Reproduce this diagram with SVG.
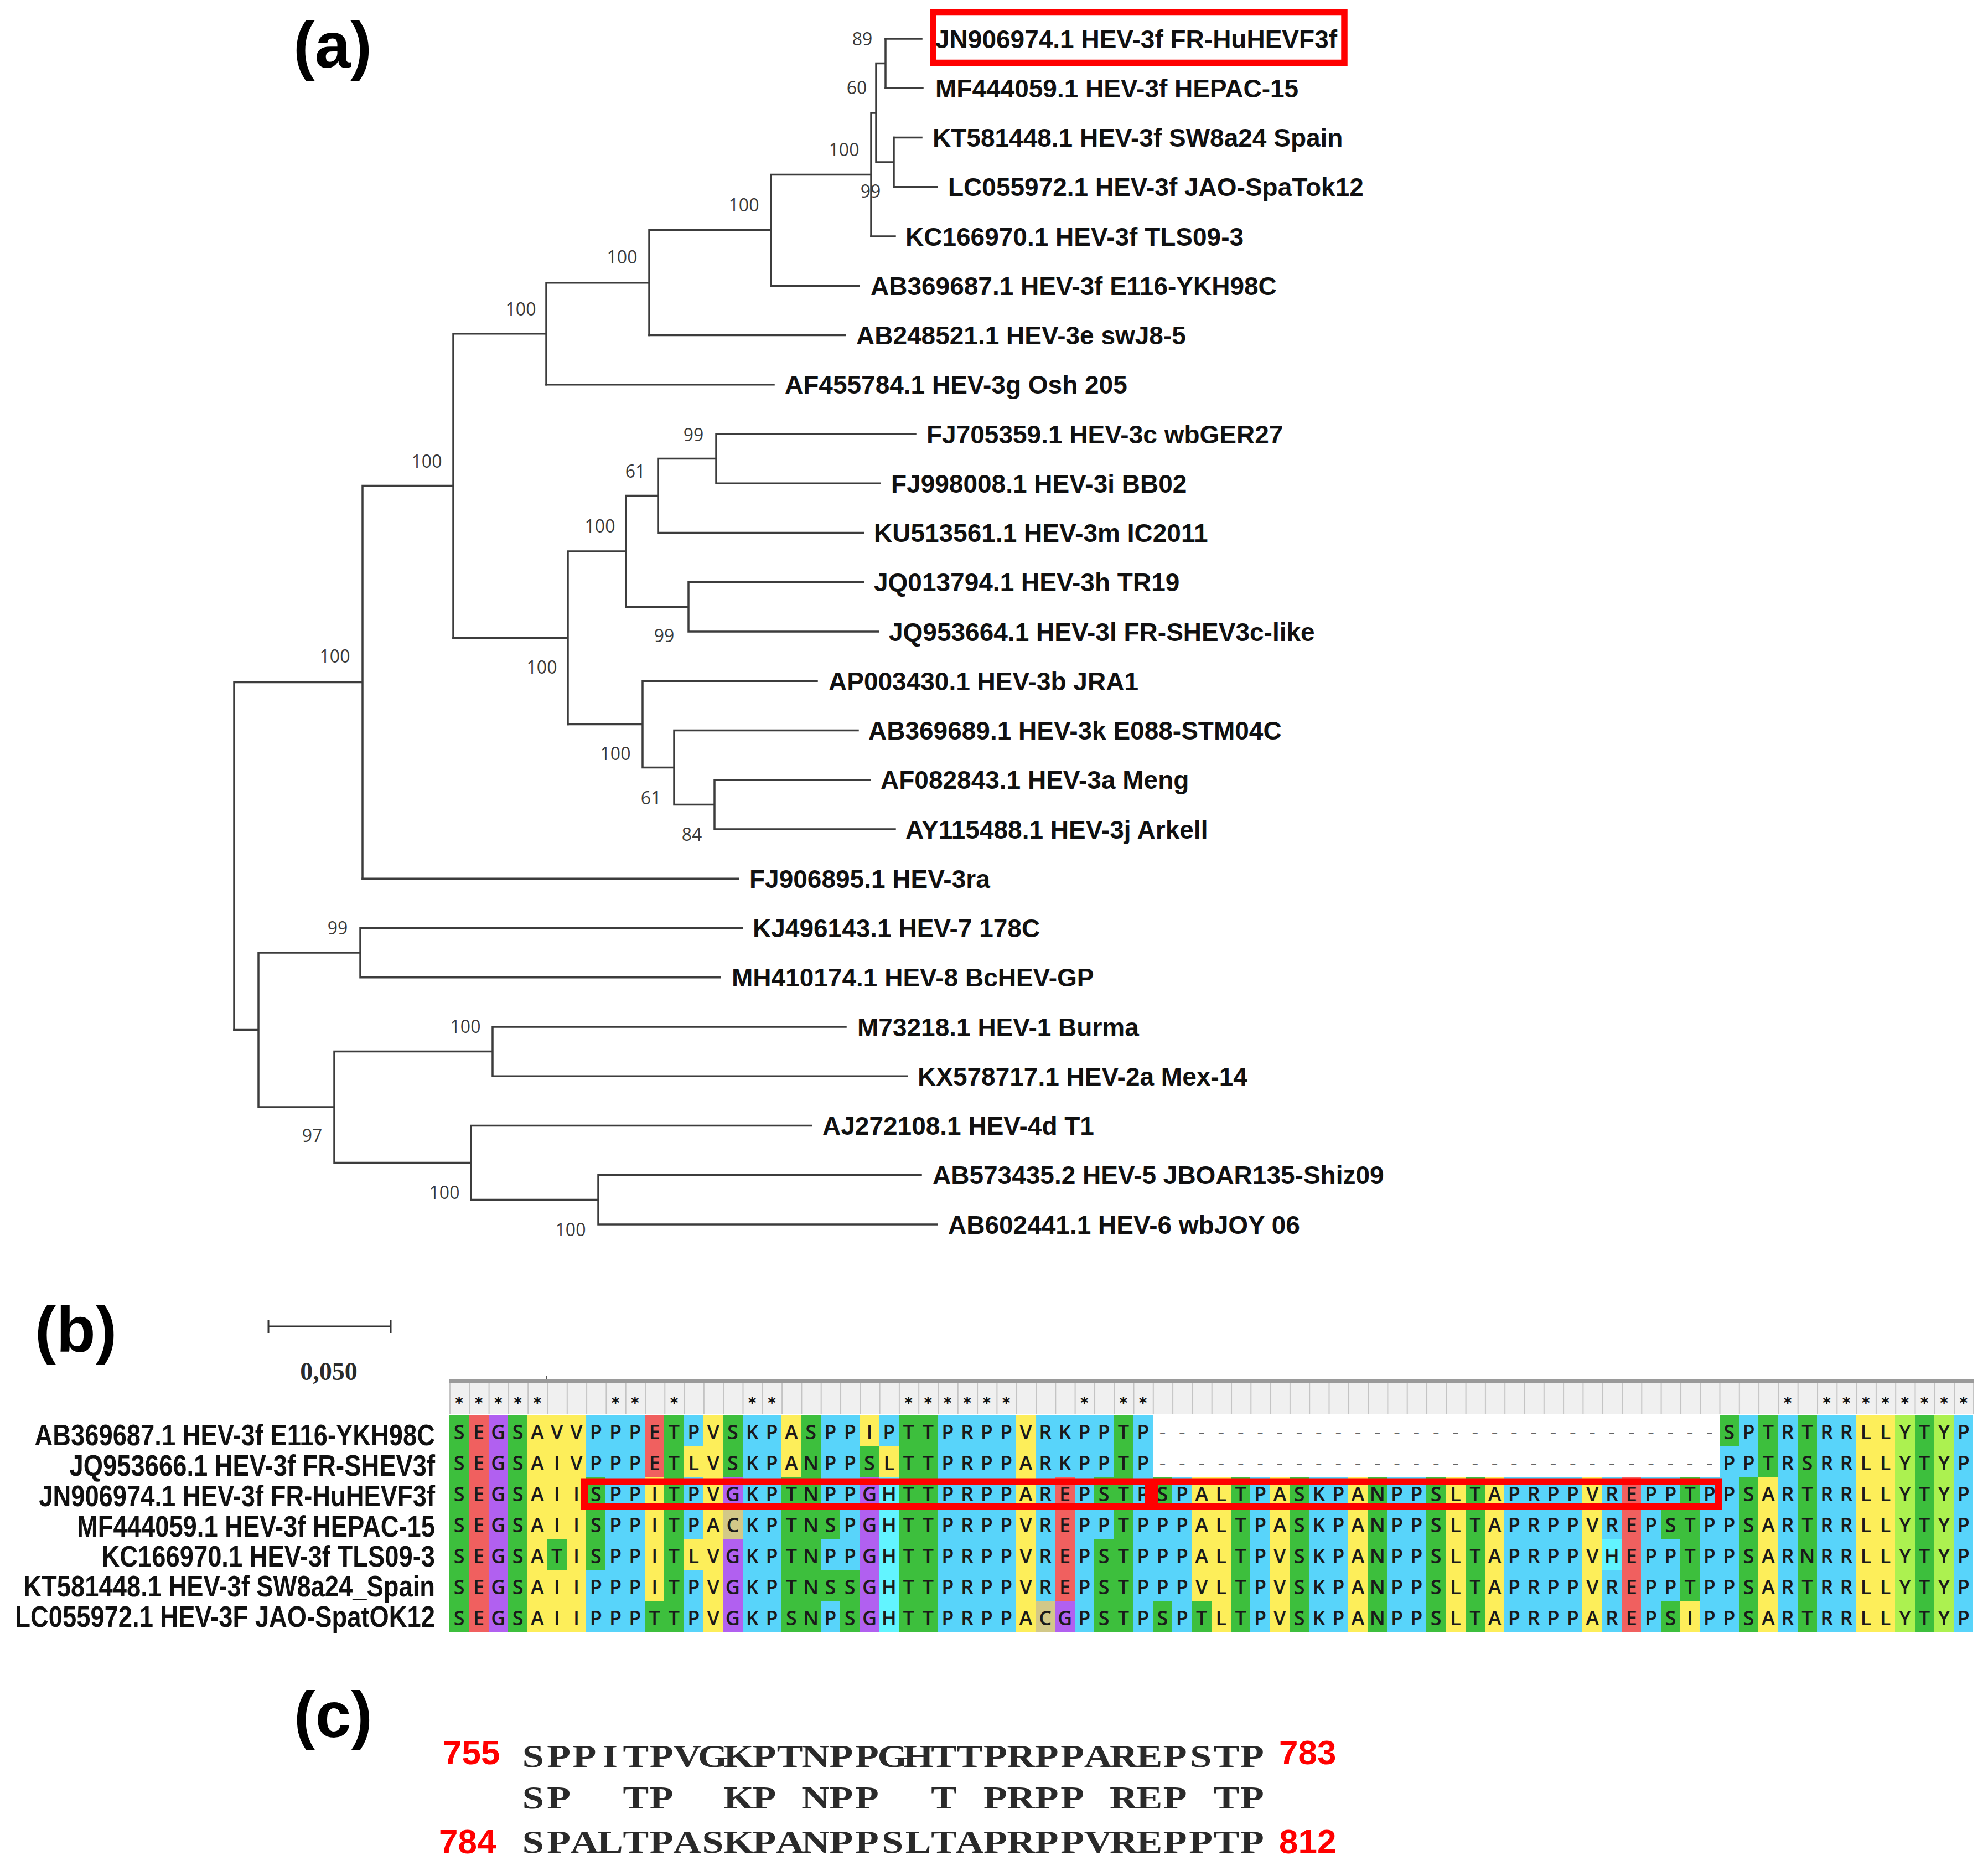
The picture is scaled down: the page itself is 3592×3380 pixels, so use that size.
<svg xmlns="http://www.w3.org/2000/svg" width="3592" height="3380" viewBox="0 0 3592 3380">
<style>
.br{fill:none;stroke:#3c3c3c;stroke-width:3.5;stroke-linecap:square}
.lf{font-family:"Liberation Sans",Arial,sans-serif;font-weight:bold;font-size:46px;fill:#111}
.bs{font-family:"Open Sans","DejaVu Sans",sans-serif;font-size:32px;fill:#3a3a3a;text-anchor:middle}
.pl{font-family:"Liberation Sans",Arial,sans-serif;font-weight:bold;font-size:116px;fill:#000}
.al{font-family:"Liberation Sans",Arial,sans-serif;font-weight:bold;font-size:54px;fill:#111;text-anchor:end}
.sq{font-family:"Open Sans","DejaVu Sans",sans-serif;font-weight:600;font-size:36px;fill:#1a1a1a;text-anchor:middle}
.gp{fill:#666;font-weight:normal}
.st{font-family:"DejaVu Sans",sans-serif;font-weight:bold;font-size:28px;fill:#111;text-anchor:middle}
.rb{fill:none;stroke:#ff0000;stroke-width:12}
.g{fill:#3dbf3d}.r{fill:#f0605f}.p{fill:#b160f0}.y{fill:#fdee5a}.b{fill:#58d4fa}.c{fill:#62f4ff}.k{fill:#d2c888}.l{fill:#acf150}
.mono{font-family:"Liberation Serif","Times New Roman",serif;font-weight:bold;font-size:56px;fill:#2a2a2a;text-anchor:middle;white-space:pre}
.num{font-family:"Liberation Sans",Arial,sans-serif;font-weight:bold;font-size:62px;fill:#ff0000}
.sc{font-family:"Liberation Serif","Times New Roman",serif;font-weight:bold;font-size:46px;fill:#2b2b2b;text-anchor:middle}
</style>
<defs>
<pattern id="hd" x="812" y="2499" width="35.3" height="57" patternUnits="userSpaceOnUse">
<rect width="35.3" height="57" fill="#f0f0f0"/><rect width="2" height="57" fill="#c4c4c4"/>
</pattern>
</defs>
<rect width="3592" height="3380" fill="#fff"/>

<!-- panel labels -->
<text class="pl" x="530" y="122">(a)</text>
<text class="pl" x="63" y="2442">(b)</text>
<text class="pl" x="531" y="3138">(c)</text>

<!-- tree branches -->
<g id="branches" class="br">
<path d="M423 1232.4V1860.6 M423 1232.4H655 M655 877.5V1587.25 M655 877.5H819 M819 602.7V1152.2 M819 602.7H987 M987 510.7V694.75 M987 510.7H1173 M1173 415.8V605.5 M1173 415.8H1393 M1393 315.4V516.25 M1393 315.4H1574 M1574 203.9V427 M1574 203.9H1583 M1583 114.6V293.1 M1583 114.6H1600 M1600 70V159.25 M1583 293.1H1615 M1615 248.5V337.75"/>
<path d="M1600 70H1665 M1600 159.25H1667 M1615 248.5H1665 M1615 337.75H1693 M1574 427H1617 M1393 516.25H1552 M1173 605.5H1527 M987 694.75H1398"/>
<path d="M819 1152.2H1026 M1026 996V1308.4 M1026 996H1131 M1131 895.6V1096.4 M1131 895.6H1189 M1189 828.6V962.5 M1189 828.6H1294 M1294 784V873.25 M1294 784H1654 M1294 873.25H1590 M1189 962.5H1560 M1131 1096.4H1244 M1244 1051.75V1141 M1244 1051.75H1560 M1244 1141H1587"/>
<path d="M1026 1308.4H1161 M1161 1230.25V1386.5 M1161 1230.25H1476 M1161 1386.5H1218 M1218 1319.5V1453.4 M1218 1319.5H1550 M1218 1453.4H1291 M1291 1408.75V1498 M1291 1408.75H1572 M1291 1498H1617 M655 1587.25H1334"/>
<path d="M423 1860.6H467 M467 1721.1V2000 M467 1721.1H651 M651 1676.5V1765.75 M651 1676.5H1341 M651 1765.75H1301 M467 2000H604 M604 1899.6V2100.5 M604 1899.6H890 M890 1855V1944.25 M890 1855H1528 M890 1944.25H1639 M604 2100.5H851 M851 2033.5V2167.4 M851 2033.5H1466 M851 2167.4H1081 M1081 2122.75V2212 M1081 2122.75H1664 M1081 2212H1693"/>
</g>

<!-- bootstrap values -->
<g id="bootstrap">
<g id="n89"><text class="bs" x="1558" y="81.5">89</text></g>
<g id="n60"><text class="bs" x="1548" y="169.5">60</text></g>
<g id="n3f"><text class="bs" x="1525" y="281.5">100</text></g>
<g id="n99a"><text class="bs" x="1573" y="356.5">99</text></g>
<g id="n1"><text class="bs" x="1344" y="381.5">100</text></g>
<g id="n2"><text class="bs" x="1124" y="475.5">100</text></g>
<g id="n3"><text class="bs" x="941" y="569.5">100</text></g>
<g id="n4"><text class="bs" x="771" y="844.5">100</text></g>
<g id="g3"><text class="bs" x="605" y="1196.5">100</text></g>
<g id="n8"><text class="bs" x="1253" y="796.5">99</text></g>
<g id="n7"><text class="bs" x="1148" y="862.5">61</text></g>
<g id="n6"><text class="bs" x="1084" y="961.5">100</text></g>
<g id="n9"><text class="bs" x="1200" y="1159.5">99</text></g>
<g id="n5"><text class="bs" x="979" y="1216.5">100</text></g>
<g id="n10"><text class="bs" x="1112" y="1372.5">100</text></g>
<g id="n11"><text class="bs" x="1176" y="1452.5">61</text></g>
<g id="n12"><text class="bs" x="1250" y="1518.5">84</text></g>
<g id="n14"><text class="bs" x="610" y="1687.5">99</text></g>
<g id="n16"><text class="bs" x="841" y="1865.5">100</text></g>
<g id="n15"><text class="bs" x="564" y="2062.5">97</text></g>
<g id="n17"><text class="bs" x="803" y="2165.5">100</text></g>
<g id="n18"><text class="bs" x="1031" y="2232.5">100</text></g>
</g>

<!-- leaves -->
<g id="leaves">
<g id="leaf-JN906974"><text class="lf" x="1690" y="86.5">JN906974.1 HEV-3f FR-HuHEVF3f</text><rect class="rb" x="1686" y="22.5" width="743" height="91" style="stroke-width:11.5"/></g>
<g id="leaf-MF444059"><text class="lf" x="1690" y="175.75">MF444059.1 HEV-3f HEPAC-15</text></g>
<g id="leaf-KT581448"><text class="lf" x="1685" y="265">KT581448.1 HEV-3f SW8a24 Spain</text></g>
<g id="leaf-LC055972"><text class="lf" x="1713" y="354.25">LC055972.1 HEV-3f JAO-SpaTok12</text></g>
<g id="leaf-KC166970"><text class="lf" x="1636" y="443.5">KC166970.1 HEV-3f TLS09-3</text></g>
<g id="leaf-AB369687"><text class="lf" x="1573" y="532.75">AB369687.1 HEV-3f E116-YKH98C</text></g>
<g id="leaf-AB248521"><text class="lf" x="1547" y="622">AB248521.1 HEV-3e swJ8-5</text></g>
<g id="leaf-AF455784"><text class="lf" x="1418" y="711.25">AF455784.1 HEV-3g Osh 205</text></g>
<g id="leaf-FJ705359"><text class="lf" x="1674" y="800.5">FJ705359.1 HEV-3c wbGER27</text></g>
<g id="leaf-FJ998008"><text class="lf" x="1610" y="889.75">FJ998008.1 HEV-3i BB02</text></g>
<g id="leaf-KU513561"><text class="lf" x="1579" y="979">KU513561.1 HEV-3m IC2011</text></g>
<g id="leaf-JQ013794"><text class="lf" x="1579" y="1068.25">JQ013794.1 HEV-3h TR19</text></g>
<g id="leaf-JQ953664"><text class="lf" x="1606" y="1157.5">JQ953664.1 HEV-3l FR-SHEV3c-like</text></g>
<g id="leaf-AP003430"><text class="lf" x="1497" y="1246.75">AP003430.1 HEV-3b JRA1</text></g>
<g id="leaf-AB369689"><text class="lf" x="1569" y="1336">AB369689.1 HEV-3k E088-STM04C</text></g>
<g id="leaf-AF082843"><text class="lf" x="1591" y="1425.25">AF082843.1 HEV-3a Meng</text></g>
<g id="leaf-AY115488"><text class="lf" x="1636" y="1514.5">AY115488.1 HEV-3j Arkell</text></g>
<g id="leaf-FJ906895"><text class="lf" x="1354" y="1603.75">FJ906895.1 HEV-3ra</text></g>
<g id="leaf-KJ496143"><text class="lf" x="1360" y="1693">KJ496143.1 HEV-7 178C</text></g>
<g id="leaf-MH410174"><text class="lf" x="1322" y="1782.25">MH410174.1 HEV-8 BcHEV-GP</text></g>
<g id="leaf-M73218"><text class="lf" x="1549" y="1871.5">M73218.1 HEV-1 Burma</text></g>
<g id="leaf-KX578717"><text class="lf" x="1658" y="1960.75">KX578717.1 HEV-2a Mex-14</text></g>
<g id="leaf-AJ272108"><text class="lf" x="1486" y="2050">AJ272108.1 HEV-4d T1</text></g>
<g id="leaf-AB573435"><text class="lf" x="1685" y="2139.25">AB573435.2 HEV-5 JBOAR135-Shiz09</text></g>
<g id="leaf-AB602441"><text class="lf" x="1713" y="2228.5">AB602441.1 HEV-6 wbJOY 06</text></g>
</g>

<!-- scale bar -->
<g id="scale">
<path d="M485 2396H706 M485 2384V2408 M706 2384V2408" fill="none" stroke="#333" stroke-width="3"/>
<text class="sc" x="594" y="2493">0,050</text>
</g>

<!-- alignment header -->
<g id="header">
<path d="M988 2485V2492" stroke="#555" stroke-width="2"/>
<rect x="812" y="2492" width="2754" height="7" fill="#9a9a9a"/>
<rect x="812" y="2499" width="2754" height="56" fill="url(#hd)"/>
<rect x="3564" y="2499" width="2" height="56" fill="#c4c4c4"/>
<text class="st" x="829.7 865 900.3 935.6 970.9 1112.1 1147.4 1218 1359.2 1394.5 1641.6 1676.9 1712.2 1747.5 1782.8 1818.1 1959.3 2029.9 2065.2 3230.1 3300.7 3336 3371.3 3406.6 3441.9 3477.2 3512.5 3547.8" y="2544">****************************</text>
</g>

<!-- alignment cells -->
<g id="cells" transform="translate(812 2557) scale(35.3 56)" shape-rendering="crispEdges">
<g id="cells-r0">
<rect class="g" x="0" width="1" height="1"/><rect class="r" x="1" width="1" height="1"/><rect class="p" x="2" width="1" height="1"/><rect class="g" x="3" width="1" height="1"/><rect class="y" x="4" width="3" height="1"/><rect class="b" x="7" width="3" height="1"/><rect class="r" x="10" width="1" height="1"/><rect class="g" x="11" width="1" height="1"/><rect class="b" x="12" width="1" height="1"/><rect class="y" x="13" width="1" height="1"/><rect class="g" x="14" width="1" height="1"/><rect class="b" x="15" width="2" height="1"/><rect class="y" x="17" width="1" height="1"/><rect class="g" x="18" width="1" height="1"/><rect class="b" x="19" width="2" height="1"/><rect class="y" x="21" width="1" height="1"/><rect class="b" x="22" width="1" height="1"/><rect class="g" x="23" width="2" height="1"/><rect class="b" x="25" width="4" height="1"/><rect class="y" x="29" width="1" height="1"/><rect class="b" x="30" width="4" height="1"/><rect class="g" x="34" width="1" height="1"/><rect class="b" x="35" width="1" height="1"/>
<rect class="g" x="65" width="1" height="1"/><rect class="b" x="66" width="1" height="1"/><rect class="g" x="67" width="1" height="1"/><rect class="b" x="68" width="1" height="1"/><rect class="g" x="69" width="1" height="1"/><rect class="b" x="70" width="2" height="1"/><rect class="y" x="72" width="2" height="1"/><rect class="l" x="74" width="1" height="1"/><rect class="g" x="75" width="1" height="1"/><rect class="l" x="76" width="1" height="1"/><rect class="b" x="77" width="1" height="1"/>
</g>
<g id="cells-r1" transform="translate(0 1)">
<rect class="g" x="0" width="1" height="1"/><rect class="r" x="1" width="1" height="1"/><rect class="p" x="2" width="1" height="1"/><rect class="g" x="3" width="1" height="1"/><rect class="y" x="4" width="3" height="1"/><rect class="b" x="7" width="3" height="1"/><rect class="r" x="10" width="1" height="1"/><rect class="g" x="11" width="1" height="1"/><rect class="y" x="12" width="2" height="1"/><rect class="g" x="14" width="1" height="1"/><rect class="b" x="15" width="2" height="1"/><rect class="y" x="17" width="1" height="1"/><rect class="g" x="18" width="1" height="1"/><rect class="b" x="19" width="2" height="1"/><rect class="g" x="21" width="1" height="1"/><rect class="y" x="22" width="1" height="1"/><rect class="g" x="23" width="2" height="1"/><rect class="b" x="25" width="4" height="1"/><rect class="y" x="29" width="1" height="1"/><rect class="b" x="30" width="4" height="1"/><rect class="g" x="34" width="1" height="1"/><rect class="b" x="35" width="1" height="1"/>
<rect class="b" x="65" width="2" height="1"/><rect class="g" x="67" width="1" height="1"/><rect class="b" x="68" width="1" height="1"/><rect class="g" x="69" width="1" height="1"/><rect class="b" x="70" width="2" height="1"/><rect class="y" x="72" width="2" height="1"/><rect class="l" x="74" width="1" height="1"/><rect class="g" x="75" width="1" height="1"/><rect class="l" x="76" width="1" height="1"/><rect class="b" x="77" width="1" height="1"/>
</g>
<g id="cells-r2" transform="translate(0 2)">
<rect class="g" x="0" width="1" height="1"/><rect class="r" x="1" width="1" height="1"/><rect class="p" x="2" width="1" height="1"/><rect class="g" x="3" width="1" height="1"/><rect class="y" x="4" width="3" height="1"/><rect class="g" x="7" width="1" height="1"/><rect class="b" x="8" width="2" height="1"/><rect class="y" x="10" width="1" height="1"/><rect class="g" x="11" width="1" height="1"/><rect class="b" x="12" width="1" height="1"/><rect class="y" x="13" width="1" height="1"/><rect class="p" x="14" width="1" height="1"/><rect class="b" x="15" width="2" height="1"/><rect class="g" x="17" width="2" height="1"/><rect class="b" x="19" width="2" height="1"/><rect class="p" x="21" width="1" height="1"/><rect class="c" x="22" width="1" height="1"/><rect class="g" x="23" width="2" height="1"/><rect class="b" x="25" width="4" height="1"/><rect class="y" x="29" width="1" height="1"/><rect class="b" x="30" width="1" height="1"/><rect class="r" x="31" width="1" height="1"/><rect class="b" x="32" width="1" height="1"/><rect class="g" x="33" width="2" height="1"/><rect class="b" x="35" width="1" height="1"/>
<rect class="g" x="36" width="1" height="1"/><rect class="b" x="37" width="1" height="1"/><rect class="y" x="38" width="2" height="1"/><rect class="g" x="40" width="1" height="1"/><rect class="b" x="41" width="1" height="1"/><rect class="y" x="42" width="1" height="1"/><rect class="g" x="43" width="1" height="1"/><rect class="b" x="44" width="2" height="1"/><rect class="y" x="46" width="1" height="1"/><rect class="g" x="47" width="1" height="1"/><rect class="b" x="48" width="2" height="1"/><rect class="g" x="50" width="1" height="1"/><rect class="y" x="51" width="1" height="1"/><rect class="g" x="52" width="1" height="1"/><rect class="y" x="53" width="1" height="1"/><rect class="b" x="54" width="4" height="1"/><rect class="y" x="58" width="1" height="1"/><rect class="b" x="59" width="1" height="1"/><rect class="r" x="60" width="1" height="1"/><rect class="b" x="61" width="2" height="1"/><rect class="g" x="63" width="1" height="1"/><rect class="b" x="64" width="2" height="1"/>
<rect class="g" x="66" width="1" height="1"/><rect class="y" x="67" width="1" height="1"/><rect class="b" x="68" width="1" height="1"/><rect class="g" x="69" width="1" height="1"/><rect class="b" x="70" width="2" height="1"/><rect class="y" x="72" width="2" height="1"/><rect class="l" x="74" width="1" height="1"/><rect class="g" x="75" width="1" height="1"/><rect class="l" x="76" width="1" height="1"/><rect class="b" x="77" width="1" height="1"/>
</g>
<g id="cells-r3" transform="translate(0 3)">
<rect class="g" x="0" width="1" height="1"/><rect class="r" x="1" width="1" height="1"/><rect class="p" x="2" width="1" height="1"/><rect class="g" x="3" width="1" height="1"/><rect class="y" x="4" width="3" height="1"/><rect class="g" x="7" width="1" height="1"/><rect class="b" x="8" width="2" height="1"/><rect class="y" x="10" width="1" height="1"/><rect class="g" x="11" width="1" height="1"/><rect class="b" x="12" width="1" height="1"/><rect class="y" x="13" width="1" height="1"/><rect class="k" x="14" width="1" height="1"/><rect class="b" x="15" width="2" height="1"/><rect class="g" x="17" width="3" height="1"/><rect class="b" x="20" width="1" height="1"/><rect class="p" x="21" width="1" height="1"/><rect class="c" x="22" width="1" height="1"/><rect class="g" x="23" width="2" height="1"/><rect class="b" x="25" width="4" height="1"/><rect class="y" x="29" width="1" height="1"/><rect class="b" x="30" width="1" height="1"/><rect class="r" x="31" width="1" height="1"/><rect class="b" x="32" width="2" height="1"/><rect class="g" x="34" width="1" height="1"/><rect class="b" x="35" width="3" height="1"/>
<rect class="y" x="38" width="2" height="1"/><rect class="g" x="40" width="1" height="1"/><rect class="b" x="41" width="1" height="1"/><rect class="y" x="42" width="1" height="1"/><rect class="g" x="43" width="1" height="1"/><rect class="b" x="44" width="2" height="1"/><rect class="y" x="46" width="1" height="1"/><rect class="g" x="47" width="1" height="1"/><rect class="b" x="48" width="2" height="1"/><rect class="g" x="50" width="1" height="1"/><rect class="y" x="51" width="1" height="1"/><rect class="g" x="52" width="1" height="1"/><rect class="y" x="53" width="1" height="1"/><rect class="b" x="54" width="4" height="1"/><rect class="y" x="58" width="1" height="1"/><rect class="b" x="59" width="1" height="1"/><rect class="r" x="60" width="1" height="1"/><rect class="b" x="61" width="1" height="1"/><rect class="g" x="62" width="2" height="1"/><rect class="b" x="64" width="2" height="1"/>
<rect class="g" x="66" width="1" height="1"/><rect class="y" x="67" width="1" height="1"/><rect class="b" x="68" width="1" height="1"/><rect class="g" x="69" width="1" height="1"/><rect class="b" x="70" width="2" height="1"/><rect class="y" x="72" width="2" height="1"/><rect class="l" x="74" width="1" height="1"/><rect class="g" x="75" width="1" height="1"/><rect class="l" x="76" width="1" height="1"/><rect class="b" x="77" width="1" height="1"/>
</g>
<g id="cells-r4" transform="translate(0 4)">
<rect class="g" x="0" width="1" height="1"/><rect class="r" x="1" width="1" height="1"/><rect class="p" x="2" width="1" height="1"/><rect class="g" x="3" width="1" height="1"/><rect class="y" x="4" width="1" height="1"/><rect class="g" x="5" width="1" height="1"/><rect class="y" x="6" width="1" height="1"/><rect class="g" x="7" width="1" height="1"/><rect class="b" x="8" width="2" height="1"/><rect class="y" x="10" width="1" height="1"/><rect class="g" x="11" width="1" height="1"/><rect class="y" x="12" width="2" height="1"/><rect class="p" x="14" width="1" height="1"/><rect class="b" x="15" width="2" height="1"/><rect class="g" x="17" width="2" height="1"/><rect class="b" x="19" width="2" height="1"/><rect class="p" x="21" width="1" height="1"/><rect class="c" x="22" width="1" height="1"/><rect class="g" x="23" width="2" height="1"/><rect class="b" x="25" width="4" height="1"/><rect class="y" x="29" width="1" height="1"/><rect class="b" x="30" width="1" height="1"/><rect class="r" x="31" width="1" height="1"/><rect class="b" x="32" width="1" height="1"/><rect class="g" x="33" width="2" height="1"/><rect class="b" x="35" width="3" height="1"/>
<rect class="y" x="38" width="2" height="1"/><rect class="g" x="40" width="1" height="1"/><rect class="b" x="41" width="1" height="1"/><rect class="y" x="42" width="1" height="1"/><rect class="g" x="43" width="1" height="1"/><rect class="b" x="44" width="2" height="1"/><rect class="y" x="46" width="1" height="1"/><rect class="g" x="47" width="1" height="1"/><rect class="b" x="48" width="2" height="1"/><rect class="g" x="50" width="1" height="1"/><rect class="y" x="51" width="1" height="1"/><rect class="g" x="52" width="1" height="1"/><rect class="y" x="53" width="1" height="1"/><rect class="b" x="54" width="4" height="1"/><rect class="y" x="58" width="1" height="1"/><rect class="c" x="59" width="1" height="1"/><rect class="r" x="60" width="1" height="1"/><rect class="b" x="61" width="2" height="1"/><rect class="g" x="63" width="1" height="1"/><rect class="b" x="64" width="2" height="1"/>
<rect class="g" x="66" width="1" height="1"/><rect class="y" x="67" width="1" height="1"/><rect class="b" x="68" width="1" height="1"/><rect class="g" x="69" width="1" height="1"/><rect class="b" x="70" width="2" height="1"/><rect class="y" x="72" width="2" height="1"/><rect class="l" x="74" width="1" height="1"/><rect class="g" x="75" width="1" height="1"/><rect class="l" x="76" width="1" height="1"/><rect class="b" x="77" width="1" height="1"/>
</g>
<g id="cells-r5" transform="translate(0 5)">
<rect class="g" x="0" width="1" height="1"/><rect class="r" x="1" width="1" height="1"/><rect class="p" x="2" width="1" height="1"/><rect class="g" x="3" width="1" height="1"/><rect class="y" x="4" width="3" height="1"/><rect class="b" x="7" width="3" height="1"/><rect class="y" x="10" width="1" height="1"/><rect class="g" x="11" width="1" height="1"/><rect class="b" x="12" width="1" height="1"/><rect class="y" x="13" width="1" height="1"/><rect class="p" x="14" width="1" height="1"/><rect class="b" x="15" width="2" height="1"/><rect class="g" x="17" width="4" height="1"/><rect class="p" x="21" width="1" height="1"/><rect class="c" x="22" width="1" height="1"/><rect class="g" x="23" width="2" height="1"/><rect class="b" x="25" width="4" height="1"/><rect class="y" x="29" width="1" height="1"/><rect class="b" x="30" width="1" height="1"/><rect class="r" x="31" width="1" height="1"/><rect class="b" x="32" width="1" height="1"/><rect class="g" x="33" width="2" height="1"/><rect class="b" x="35" width="3" height="1"/>
<rect class="y" x="38" width="2" height="1"/><rect class="g" x="40" width="1" height="1"/><rect class="b" x="41" width="1" height="1"/><rect class="y" x="42" width="1" height="1"/><rect class="g" x="43" width="1" height="1"/><rect class="b" x="44" width="2" height="1"/><rect class="y" x="46" width="1" height="1"/><rect class="g" x="47" width="1" height="1"/><rect class="b" x="48" width="2" height="1"/><rect class="g" x="50" width="1" height="1"/><rect class="y" x="51" width="1" height="1"/><rect class="g" x="52" width="1" height="1"/><rect class="y" x="53" width="1" height="1"/><rect class="b" x="54" width="4" height="1"/><rect class="y" x="58" width="1" height="1"/><rect class="b" x="59" width="1" height="1"/><rect class="r" x="60" width="1" height="1"/><rect class="b" x="61" width="2" height="1"/><rect class="g" x="63" width="1" height="1"/><rect class="b" x="64" width="2" height="1"/>
<rect class="g" x="66" width="1" height="1"/><rect class="y" x="67" width="1" height="1"/><rect class="b" x="68" width="1" height="1"/><rect class="g" x="69" width="1" height="1"/><rect class="b" x="70" width="2" height="1"/><rect class="y" x="72" width="2" height="1"/><rect class="l" x="74" width="1" height="1"/><rect class="g" x="75" width="1" height="1"/><rect class="l" x="76" width="1" height="1"/><rect class="b" x="77" width="1" height="1"/>
</g>
<g id="cells-r6" transform="translate(0 6)">
<rect class="g" x="0" width="1" height="1"/><rect class="r" x="1" width="1" height="1"/><rect class="p" x="2" width="1" height="1"/><rect class="g" x="3" width="1" height="1"/><rect class="y" x="4" width="3" height="1"/><rect class="b" x="7" width="3" height="1"/><rect class="g" x="10" width="2" height="1"/><rect class="b" x="12" width="1" height="1"/><rect class="y" x="13" width="1" height="1"/><rect class="p" x="14" width="1" height="1"/><rect class="b" x="15" width="2" height="1"/><rect class="g" x="17" width="2" height="1"/><rect class="b" x="19" width="1" height="1"/><rect class="g" x="20" width="1" height="1"/><rect class="p" x="21" width="1" height="1"/><rect class="c" x="22" width="1" height="1"/><rect class="g" x="23" width="2" height="1"/><rect class="b" x="25" width="4" height="1"/><rect class="y" x="29" width="1" height="1"/><rect class="k" x="30" width="1" height="1"/><rect class="p" x="31" width="1" height="1"/><rect class="b" x="32" width="1" height="1"/><rect class="g" x="33" width="2" height="1"/><rect class="b" x="35" width="1" height="1"/>
<rect class="g" x="36" width="1" height="1"/><rect class="b" x="37" width="1" height="1"/><rect class="g" x="38" width="1" height="1"/><rect class="y" x="39" width="1" height="1"/><rect class="g" x="40" width="1" height="1"/><rect class="b" x="41" width="1" height="1"/><rect class="y" x="42" width="1" height="1"/><rect class="g" x="43" width="1" height="1"/><rect class="b" x="44" width="2" height="1"/><rect class="y" x="46" width="1" height="1"/><rect class="g" x="47" width="1" height="1"/><rect class="b" x="48" width="2" height="1"/><rect class="g" x="50" width="1" height="1"/><rect class="y" x="51" width="1" height="1"/><rect class="g" x="52" width="1" height="1"/><rect class="y" x="53" width="1" height="1"/><rect class="b" x="54" width="4" height="1"/><rect class="y" x="58" width="1" height="1"/><rect class="b" x="59" width="1" height="1"/><rect class="r" x="60" width="1" height="1"/><rect class="b" x="61" width="1" height="1"/><rect class="g" x="62" width="1" height="1"/><rect class="y" x="63" width="1" height="1"/><rect class="b" x="64" width="2" height="1"/>
<rect class="g" x="66" width="1" height="1"/><rect class="y" x="67" width="1" height="1"/><rect class="b" x="68" width="1" height="1"/><rect class="g" x="69" width="1" height="1"/><rect class="b" x="70" width="2" height="1"/><rect class="y" x="72" width="2" height="1"/><rect class="l" x="74" width="1" height="1"/><rect class="g" x="75" width="1" height="1"/><rect class="l" x="76" width="1" height="1"/><rect class="b" x="77" width="1" height="1"/>
</g>
</g>

<!-- alignment row labels (condensed horizontally) -->
<g id="row-labels">
<g id="label-AB369687" transform="matrix(0.84 0 0 1 786 0)"><text class="al" x="0" y="2611">AB369687.1 HEV-3f E116-YKH98C</text></g>
<g id="label-JQ953666" transform="matrix(0.84 0 0 1 786 0)"><text class="al" x="0" y="2666">JQ953666.1 HEV-3f FR-SHEV3f</text></g>
<g id="label-JN906974" transform="matrix(0.84 0 0 1 786 0)"><text class="al" x="0" y="2721">JN906974.1 HEV-3f FR-HuHEVF3f</text></g>
<g id="label-MF444059" transform="matrix(0.84 0 0 1 786 0)"><text class="al" x="0" y="2776">MF444059.1 HEV-3f HEPAC-15</text></g>
<g id="label-KC166970" transform="matrix(0.84 0 0 1 786 0)"><text class="al" x="0" y="2830">KC166970.1 HEV-3f TLS09-3</text></g>
<g id="label-KT581448" transform="matrix(0.84 0 0 1 786 0)"><text class="al" x="0" y="2884">KT581448.1 HEV-3f SW8a24_Spain</text></g>
<g id="label-LC055972" transform="matrix(0.84 0 0 1 786 0)"><text class="al" x="0" y="2939">LC055972.1 HEV-3F JAO-SpatOK12</text></g>
</g>

<!-- alignment residues -->
<g id="row-AB369687">
<text class="sq" y="2600" x="829.7 865 900.3 935.6 970.9 1006.2 1041.5 1076.8 1112.1 1147.4 1182.7 1218 1253.3 1288.6 1323.9 1359.2 1394.5 1429.8 1465.1 1500.4 1535.7 1571 1606.3 1641.6 1676.9 1712.2 1747.5 1782.8 1818.1 1853.4 1888.7 1924 1959.3 1994.6 2029.9 2065.2 2100.5 2135.8 2171.1 2206.4 2241.7 2277 2312.3 2347.6 2382.9 2418.2 2453.5 2488.8 2524.1 2559.4 2594.7 2630 2665.3 2700.6 2735.9 2771.2 2806.5 2841.8 2877.1 2912.4 2947.7 2983 3018.3 3053.6 3088.9 3124.2 3159.5 3194.8 3230.1 3265.4 3300.7 3336 3371.3 3406.6 3441.9 3477.2 3512.5 3547.8">SEGSAVVPPPETPVSKPASPPIPTTPRPPVRKPPTP<tspan class="gp">-----------------------------</tspan>SPTRTRRLLYTYP</text>
</g>
<g id="row-JQ953666">
<text class="sq" y="2656" x="829.7 865 900.3 935.6 970.9 1006.2 1041.5 1076.8 1112.1 1147.4 1182.7 1218 1253.3 1288.6 1323.9 1359.2 1394.5 1429.8 1465.1 1500.4 1535.7 1571 1606.3 1641.6 1676.9 1712.2 1747.5 1782.8 1818.1 1853.4 1888.7 1924 1959.3 1994.6 2029.9 2065.2 2100.5 2135.8 2171.1 2206.4 2241.7 2277 2312.3 2347.6 2382.9 2418.2 2453.5 2488.8 2524.1 2559.4 2594.7 2630 2665.3 2700.6 2735.9 2771.2 2806.5 2841.8 2877.1 2912.4 2947.7 2983 3018.3 3053.6 3088.9 3124.2 3159.5 3194.8 3230.1 3265.4 3300.7 3336 3371.3 3406.6 3441.9 3477.2 3512.5 3547.8">SEGSAIVPPPETLVSKPANPPSLTTPRPPARKPPTP<tspan class="gp">-----------------------------</tspan>PPTRSRRLLYTYP</text>
</g>
<g id="row-JN906974">
<text class="sq" y="2712" x="829.7 865 900.3 935.6 970.9 1006.2 1041.5 1076.8 1112.1 1147.4 1182.7 1218 1253.3 1288.6 1323.9 1359.2 1394.5 1429.8 1465.1 1500.4 1535.7 1571 1606.3 1641.6 1676.9 1712.2 1747.5 1782.8 1818.1 1853.4 1888.7 1924 1959.3 1994.6 2029.9 2065.2 2100.5 2135.8 2171.1 2206.4 2241.7 2277 2312.3 2347.6 2382.9 2418.2 2453.5 2488.8 2524.1 2559.4 2594.7 2630 2665.3 2700.6 2735.9 2771.2 2806.5 2841.8 2877.1 2912.4 2947.7 2983 3018.3 3053.6 3088.9 3124.2 3159.5 3194.8 3230.1 3265.4 3300.7 3336 3371.3 3406.6 3441.9 3477.2 3512.5 3547.8">SEGSAIISPPITPVGKPTNPPGHTTPRPPAREPSTPSPALTPASKPANPPSLTAPRPPVREPPTPPSARTRRLLYTYP</text>
<rect class="rb" x="1056" y="2676.5" width="1018" height="45"/>
<rect class="rb" x="2086" y="2676.5" width="1019" height="45"/>
</g>
<g id="row-MF444059">
<text class="sq" y="2768" x="829.7 865 900.3 935.6 970.9 1006.2 1041.5 1076.8 1112.1 1147.4 1182.7 1218 1253.3 1288.6 1323.9 1359.2 1394.5 1429.8 1465.1 1500.4 1535.7 1571 1606.3 1641.6 1676.9 1712.2 1747.5 1782.8 1818.1 1853.4 1888.7 1924 1959.3 1994.6 2029.9 2065.2 2100.5 2135.8 2171.1 2206.4 2241.7 2277 2312.3 2347.6 2382.9 2418.2 2453.5 2488.8 2524.1 2559.4 2594.7 2630 2665.3 2700.6 2735.9 2771.2 2806.5 2841.8 2877.1 2912.4 2947.7 2983 3018.3 3053.6 3088.9 3124.2 3159.5 3194.8 3230.1 3265.4 3300.7 3336 3371.3 3406.6 3441.9 3477.2 3512.5 3547.8">SEGSAIISPPITPACKPTNSPGHTTPRPPVREPPTPPPALTPASKPANPPSLTAPRPPVREPSTPPSARTRRLLYTYP</text>
</g>
<g id="row-KC166970">
<text class="sq" y="2824" x="829.7 865 900.3 935.6 970.9 1006.2 1041.5 1076.8 1112.1 1147.4 1182.7 1218 1253.3 1288.6 1323.9 1359.2 1394.5 1429.8 1465.1 1500.4 1535.7 1571 1606.3 1641.6 1676.9 1712.2 1747.5 1782.8 1818.1 1853.4 1888.7 1924 1959.3 1994.6 2029.9 2065.2 2100.5 2135.8 2171.1 2206.4 2241.7 2277 2312.3 2347.6 2382.9 2418.2 2453.5 2488.8 2524.1 2559.4 2594.7 2630 2665.3 2700.6 2735.9 2771.2 2806.5 2841.8 2877.1 2912.4 2947.7 2983 3018.3 3053.6 3088.9 3124.2 3159.5 3194.8 3230.1 3265.4 3300.7 3336 3371.3 3406.6 3441.9 3477.2 3512.5 3547.8">SEGSATISPPITLVGKPTNPPGHTTPRPPVREPSTPPPALTPVSKPANPPSLTAPRPPVHEPPTPPSARNRRLLYTYP</text>
</g>
<g id="row-KT581448">
<text class="sq" y="2880" x="829.7 865 900.3 935.6 970.9 1006.2 1041.5 1076.8 1112.1 1147.4 1182.7 1218 1253.3 1288.6 1323.9 1359.2 1394.5 1429.8 1465.1 1500.4 1535.7 1571 1606.3 1641.6 1676.9 1712.2 1747.5 1782.8 1818.1 1853.4 1888.7 1924 1959.3 1994.6 2029.9 2065.2 2100.5 2135.8 2171.1 2206.4 2241.7 2277 2312.3 2347.6 2382.9 2418.2 2453.5 2488.8 2524.1 2559.4 2594.7 2630 2665.3 2700.6 2735.9 2771.2 2806.5 2841.8 2877.1 2912.4 2947.7 2983 3018.3 3053.6 3088.9 3124.2 3159.5 3194.8 3230.1 3265.4 3300.7 3336 3371.3 3406.6 3441.9 3477.2 3512.5 3547.8">SEGSAIIPPPITPVGKPTNSSGHTTPRPPVREPSTPPPVLTPVSKPANPPSLTAPRPPVREPPTPPSARTRRLLYTYP</text>
</g>
<g id="row-LC055972">
<text class="sq" y="2936" x="829.7 865 900.3 935.6 970.9 1006.2 1041.5 1076.8 1112.1 1147.4 1182.7 1218 1253.3 1288.6 1323.9 1359.2 1394.5 1429.8 1465.1 1500.4 1535.7 1571 1606.3 1641.6 1676.9 1712.2 1747.5 1782.8 1818.1 1853.4 1888.7 1924 1959.3 1994.6 2029.9 2065.2 2100.5 2135.8 2171.1 2206.4 2241.7 2277 2312.3 2347.6 2382.9 2418.2 2453.5 2488.8 2524.1 2559.4 2594.7 2630 2665.3 2700.6 2735.9 2771.2 2806.5 2841.8 2877.1 2912.4 2947.7 2983 3018.3 3053.6 3088.9 3124.2 3159.5 3194.8 3230.1 3265.4 3300.7 3336 3371.3 3406.6 3441.9 3477.2 3512.5 3547.8">SEGSAIIPPPTTPVGKPSNPSGHTTPRPPACGPSTPSPTLTPVSKPANPPSLTAPRPPAREPSIPPSARTRRLLYTYP</text>
</g>

<!-- panel c -->
<g id="repeat-1">
<text class="num" x="800" y="3187">755</text>
<g transform="matrix(1.25 0 0 1 0 0)"><text class="mono" y="3192" x="770.56 807.68 844.8 881.92 919.04 956.16 993.28 1030.4 1067.52 1104.64 1141.76 1178.88 1216 1253.12 1290.24 1327.36 1364.48 1401.6 1438.72 1475.84 1512.96 1550.08 1587.2 1624.32 1661.44 1698.56 1735.68 1772.8 1809.92">SPPITPVGKPTNPPGHTTPRPPAREPSTP</text></g>
<text class="num" x="2311" y="3187">783</text>
</g>
<g id="repeat-match">
<g transform="matrix(1.25 0 0 1 0 0)"><text class="mono" y="3267" xml:space="preserve" x="770.56 807.68 844.8 881.92 919.04 956.16 993.28 1030.4 1067.52 1104.64 1141.76 1178.88 1216 1253.12 1290.24 1327.36 1364.48 1401.6 1438.72 1475.84 1512.96 1550.08 1587.2 1624.32 1661.44 1698.56 1735.68 1772.8 1809.92">SP  TP  KP NPP  T PRPP REP TP</text></g>
</g>
<g id="repeat-2">
<text class="num" x="793" y="3348">784</text>
<g transform="matrix(1.25 0 0 1 0 0)"><text class="mono" y="3347" x="770.56 807.68 844.8 881.92 919.04 956.16 993.28 1030.4 1067.52 1104.64 1141.76 1178.88 1216 1253.12 1290.24 1327.36 1364.48 1401.6 1438.72 1475.84 1512.96 1550.08 1587.2 1624.32 1661.44 1698.56 1735.68 1772.8 1809.92">SPALTPASKPANPPSLTAPRPPVREPPTP</text></g>
<text class="num" x="2311" y="3348">812</text>
</g>
</svg>
